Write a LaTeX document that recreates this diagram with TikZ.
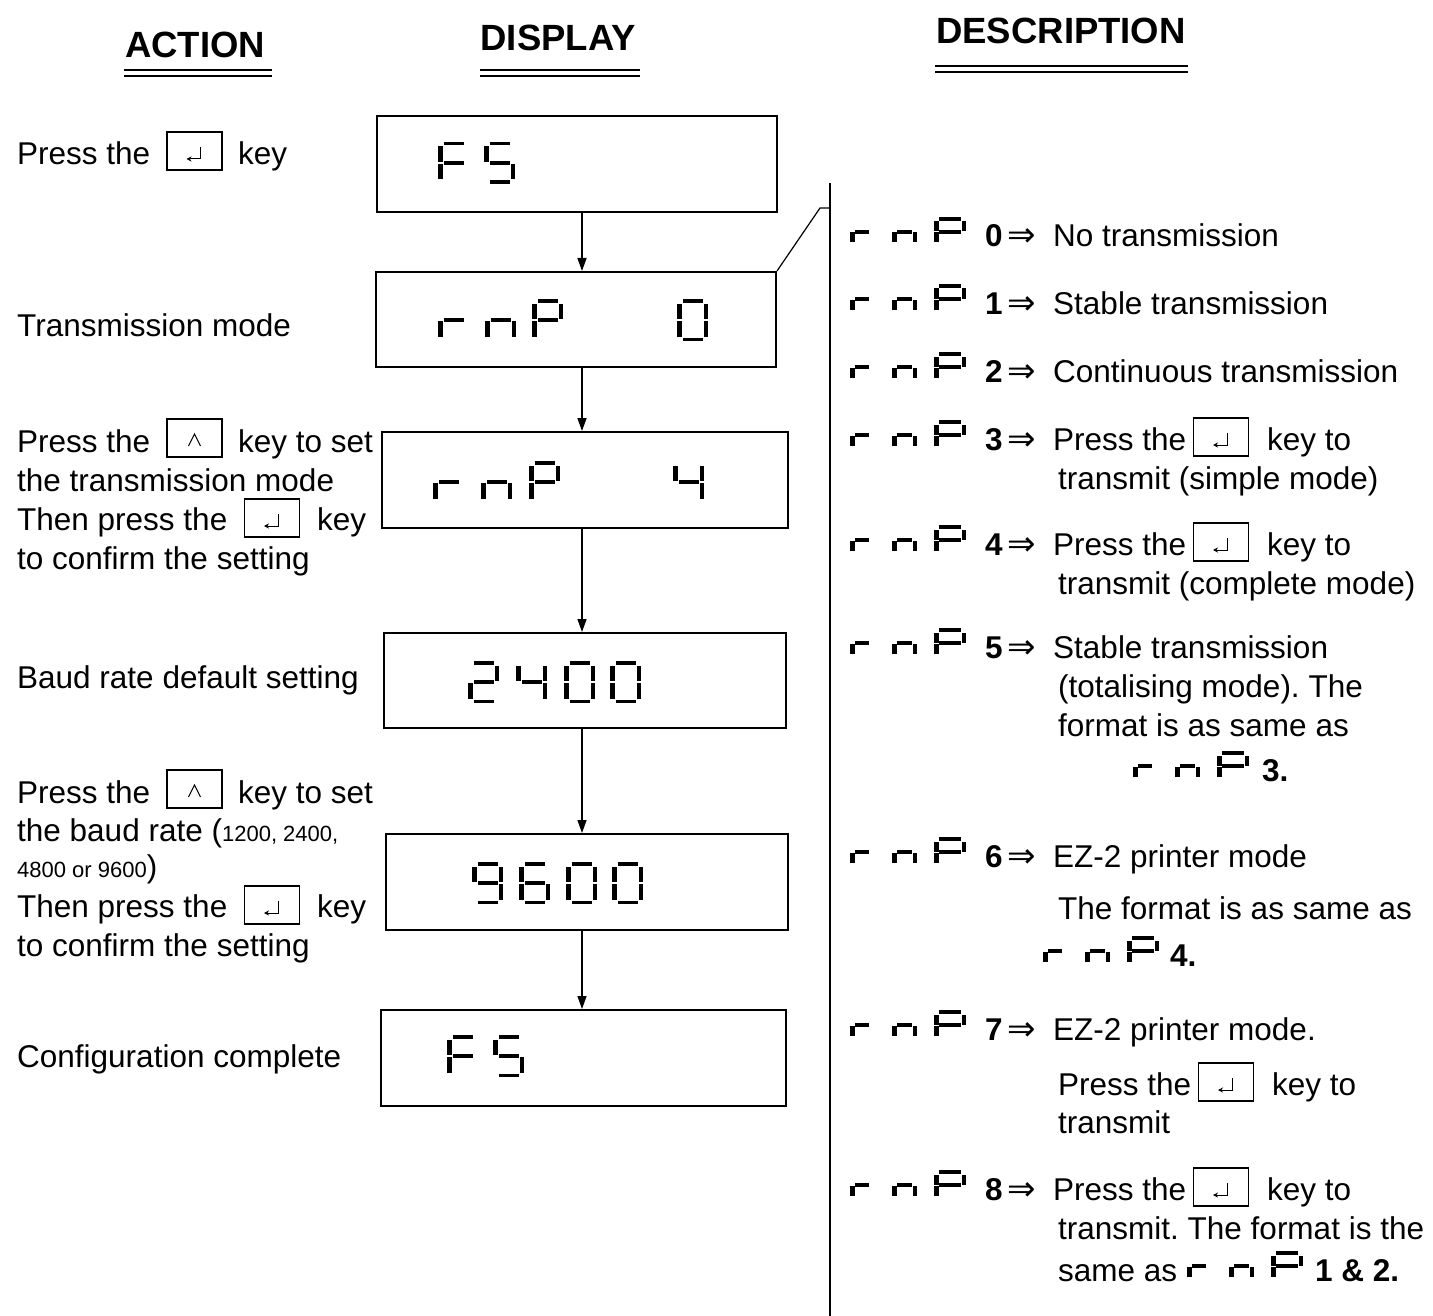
\documentclass[tikz,border=0pt]{standalone}
\usepackage{fontspec}
\setmainfont{Liberation Sans}
\newfontfamily\symf{DejaVu Sans}
\usetikzlibrary{arrows.meta,calc}
\frenchspacing

\newcommand{\setglyph}[5]{\def\gW{#1}\def\gH{#2}\def\gV{#3}\def\gT{#4}\def\gG{#5}}
\newcommand{\ssglyph}[3]{%
 \begin{scope}[shift={(#1,#2)}]
  \foreach \s in {#3}{%
   \ifnum\s=1 \fill (\gV+\gG,0) rectangle (\gW-\gV-\gG,\gT);\fi
   \ifnum\s=2 \fill (\gW-\gV,\gT+\gG) rectangle (\gW,\gH/2-\gG);\fi
   \ifnum\s=3 \fill (\gW-\gV,\gH/2+\gG) rectangle (\gW,\gH-\gT-\gG);\fi
   \ifnum\s=4 \fill (\gV+\gG,\gH-\gT) rectangle (\gW-\gV-\gG,\gH);\fi
   \ifnum\s=5 \fill (0,\gH/2+\gG) rectangle (\gV,\gH-\gT-\gG);\fi
   \ifnum\s=6 \fill (0,\gT+\gG) rectangle (\gV,\gH/2-\gG);\fi
   \ifnum\s=7 \fill (\gV+\gG,\gH/2-\gT/2) rectangle (\gW-\gV-\gG,\gH/2+\gT/2);\fi
  }%
 \end{scope}}
% small r n P glyph group (r, n, P)
\newcommand{\rnpgl}[2]{%
 \setglyph{24}{30}{4.5}{4}{0.5}\ssglyph{#1}{#2}{5,7}%
 \setglyph{25}{30}{4.5}{4}{0.5}\ssglyph{#1+42}{#2}{3,5,7}%
 \setglyph{32}{30}{4.5}{4}{0.5}\ssglyph{#1+84}{#2}{1,2,5,6,7}}
\newcommand{\entersym}[1]{%
 \draw[sym,-{Stealth[length=5pt,width=5pt]}] ([shift={(6,-4)}]#1.center) -- ([shift={(6,8)}]#1.center) -- ([shift={(-8,8)}]#1.center);}
\newcommand{\upsym}[1]{%
 \draw[sym] ([shift={(-6,8)}]#1.center) -- ([shift={(0,-4)}]#1.center) -- ([shift={(6,8)}]#1.center);}

\begin{document}
\begin{tikzpicture}[x=1pt,y=-1pt,
  txt/.style={anchor=base west,inner sep=0pt,font=\fontsize{31.5}{38}\selectfont},
  hdr/.style={anchor=base,inner sep=0pt,font=\fontsize{36.5}{44}\selectfont\bfseries},
  arrw/.style={anchor=base west,inner sep=0pt,font=\fontsize{34}{40}\selectfont\symf},
  disp/.style={draw,line width=2pt,inner sep=0pt},
  keybox/.style={draw,line width=1.6pt,minimum width=55pt,minimum height=38pt,inner sep=0pt},
  arr/.style={line width=1.5pt,-{Triangle[length=13pt,width=9pt]}},
  uline/.style={line width=2pt},
  sym/.style={line width=1pt}]

\useasboundingbox[fill=white] (0,0) rectangle (1433,1316);

% headers
\node[hdr] (hA) at (195,58) {ACTION};
\node[hdr] (hD) at (558,51) {DISPLAY};
\node[hdr] (hS) at (1061,44) {DESCRIPTION};
\draw[uline] (124,70) -- (272,70) (124,76) -- (272,76);
\draw[uline] (480,70) -- (640,70) (480,76) -- (640,76);
\draw[uline] (935,66) -- (1188,66) (935,72) -- (1188,72);

% display boxes
\node[disp,minimum width=400pt,minimum height=96pt] (d1) at (577,164) {};
\node[disp,minimum width=400pt,minimum height=95pt] (d2) at (576,319.5) {};
\node[disp,minimum width=406pt,minimum height=96pt] (d3) at (585,480) {};
\node[disp,minimum width=402pt,minimum height=95pt] (d4) at (585,680.5) {};
\node[disp,minimum width=402pt,minimum height=96pt] (d5) at (587,882) {};
\node[disp,minimum width=405pt,minimum height=96pt] (d6) at (583.5,1058) {};

\coordinate (ax) at (582,0);
\draw[arr] (d1.south -| ax) -- (d2.north -| ax);
\draw[arr] (d2.south -| ax) -- (d3.north -| ax);
\draw[arr] (d3.south -| ax) -- (d4.north -| ax);
\draw[arr] (d4.south -| ax) -- (d5.north -| ax);
\draw[arr] (d5.south -| ax) -- (d6.north -| ax);

% seven segment contents (big)
\setglyph{31}{42}{4.5}{3.5}{1}
\ssglyph{438}{142}{1,5,6,7}\ssglyph{484}{142}{1,6,7,3,4}
\ssglyph{438}{299}{5,7}\ssglyph{485}{299}{3,5,7}\ssglyph{532}{299}{1,2,5,6,7}\ssglyph{677}{299}{1,2,3,4,5,6}
\ssglyph{433}{461}{5,7}\ssglyph{481}{461}{3,5,7}\ssglyph{529}{461}{1,2,5,6,7}\ssglyph{673}{461}{6,7,2,3}
\ssglyph{468}{661}{1,2,7,5,4}\ssglyph{516}{661}{6,7,2,3}\ssglyph{564}{661}{1,2,3,4,5,6}\ssglyph{610}{661}{1,2,3,4,5,6}
\ssglyph{472}{862}{1,2,3,4,6,7}\ssglyph{519}{862}{1,6,7,5,3,4}\ssglyph{566}{862}{1,2,3,4,5,6}\ssglyph{612}{862}{1,2,3,4,5,6}
\ssglyph{447}{1035}{1,5,6,7}\ssglyph{493}{1035}{1,6,7,3,4}

% divider and connector
\coordinate (dvt) at (830,183);
\coordinate (dvb) at (830,1316);
\coordinate (jn) at (820,208);
\draw[line width=1.5pt] (dvt) -- (dvb);
\draw[line width=1.2pt] (d2.north east) -- (jn) -- (jn -| dvt);

% left column
\node[txt] (a1) at (17,165) {Press the};
\node[keybox] (k1) at (194.5,151) {}; \entersym{k1}
\node[txt] (a1b) at (238,165) {key};
\node[txt] (a2) at (17,336) {Transmission mode};
\node[txt] (a3) at (17,452) {Press the};
\node[keybox] (k2) at (194.5,438) {}; \upsym{k2}
\node[txt] (a3b) at (238,452) {key to set};
\node[txt] (a3c) at (17,491) {the transmission mode};
\node[txt] (a3d) at (17,530) {Then press the};
\node[keybox] (k3) at (272,518) {}; \entersym{k3}
\node[txt] (a3e) at (317,530) {key};
\node[txt] (a3f) at (17,569) {to confirm the setting};
\node[txt] (a4) at (17,688) {Baud rate default setting};
\node[txt] (a5) at (17,803) {Press the};
\node[keybox] (k4) at (194.5,789) {}; \upsym{k4}
\node[txt] (a5b) at (238,803) {key to set};
\node[txt] (a5c) at (17,841) {the baud rate (\fontsize{22}{26}\selectfont 1200, 2400,};
\node[txt] (a5d) at (17,877) {\fontsize{22}{26}\selectfont 4800 or 9600\fontsize{31.5}{38}\selectfont)};
\node[txt] (a5e) at (17,917) {Then press the};
\node[keybox] (k5) at (272,905) {}; \entersym{k5}
\node[txt] (a5f) at (317,917) {key};
\node[txt] (a5g) at (17,956) {to confirm the setting};
\node[txt] (a6) at (17,1067) {Configuration complete};

% right column
\rnpgl{850}{217}
\node[txt] (n0) at (985,247) {\textbf{0}};
\node[arrw] (r0) at (1007,247) {⇒};
\node[txt] (t0) at (1053,247) {No transmission};

\rnpgl{850}{284}
\node[txt] (n1) at (985,314) {\textbf{1}};
\node[arrw] (r1) at (1007,314) {⇒};
\node[txt] (t1) at (1053,314) {Stable transmission};

\rnpgl{850}{352}
\node[txt] (n2) at (985,382) {\textbf{2}};
\node[arrw] (r2) at (1007,382) {⇒};
\node[txt] (t2) at (1053,382) {Continuous transmission};

\rnpgl{850}{420}
\node[txt] (n3) at (985,450) {\textbf{3}};
\node[arrw] (r3) at (1007,450) {⇒};
\node[txt] (t3) at (1053,450) {Press the};
\node[keybox] (k6) at (1221,437) {}; \entersym{k6}
\node[txt] (t3b) at (1267,450) {key to};
\node[txt] (t3c) at (1058,489) {transmit (simple mode)};

\rnpgl{850}{525}
\node[txt] (n4) at (985,555) {\textbf{4}};
\node[arrw] (r4) at (1007,555) {⇒};
\node[txt] (t4) at (1053,555) {Press the};
\node[keybox] (k7) at (1221,542) {}; \entersym{k7}
\node[txt] (t4b) at (1267,555) {key to};
\node[txt] (t4c) at (1058,594) {transmit (complete mode)};

\rnpgl{850}{628}
\node[txt] (n5) at (985,658) {\textbf{5}};
\node[arrw] (r5) at (1007,658) {⇒};
\node[txt] (t5) at (1053,658) {Stable transmission};
\node[txt] (t5b) at (1058,697) {(totalising mode). The};
\node[txt] (t5c) at (1058,736) {format is as same as};
\rnpgl{1133}{751}
\node[txt] (t5d) at (1262,781) {\textbf{3.}};

\rnpgl{850}{837}
\node[txt] (n6) at (985,867) {\textbf{6}};
\node[arrw] (r6) at (1007,867) {⇒};
\node[txt] (t6) at (1053,867) {EZ-2 printer mode};
\node[txt] (t6b) at (1058,919) {The format is as same as};
\rnpgl{1043}{936}
\node[txt] (t6c) at (1170,966) {\textbf{4.}};

\rnpgl{850}{1010}
\node[txt] (n7) at (985,1040) {\textbf{7}};
\node[arrw] (r7) at (1007,1040) {⇒};
\node[txt] (t7) at (1053,1040) {EZ-2 printer mode.};
\node[txt] (t7b) at (1058,1095) {Press the};
\node[keybox] (k8) at (1226,1082) {}; \entersym{k8}
\node[txt] (t7c) at (1272,1095) {key to};
\node[txt] (t7d) at (1058,1133) {transmit};

\rnpgl{850}{1170}
\node[txt] (n8) at (985,1200) {\textbf{8}};
\node[arrw] (r8) at (1007,1200) {⇒};
\node[txt] (t8) at (1053,1200) {Press the};
\node[keybox] (k9) at (1221,1187) {}; \entersym{k9}
\node[txt] (t8b) at (1267,1200) {key to};
\node[txt] (t8c) at (1058,1239) {transmit. The format is the};
\node[txt] (t8d) at (1058,1281) {same as};
\rnpgl{1187}{1251}
\node[txt] (t8e) at (1315,1281) {\textbf{1 \& 2.}};

\end{tikzpicture}
\end{document}
